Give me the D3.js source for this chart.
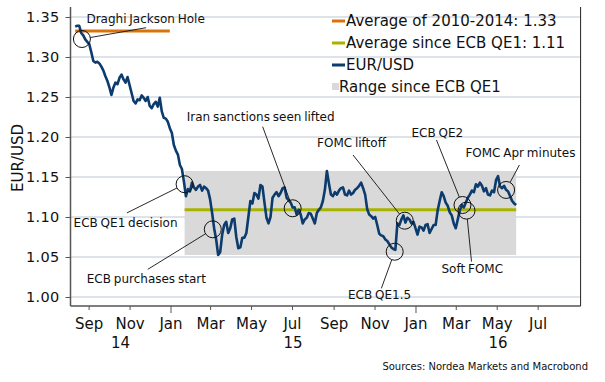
<!DOCTYPE html>
<html>
<head>
<meta charset="utf-8">
<script src="https://cdn.jsdelivr.net/npm/d3@7"></script>
<style>
  html, body { margin: 0; padding: 0; background: #fff; }
  svg { display: block; font-family: "DejaVu Sans", Verdana, sans-serif; }
</style>
</head>
<body>
<svg id="chart" width="605" height="382"></svg>
<script>
// ---------------- DATA ----------------
// EUR/USD sampled every 3 days starting 2014-08-12
const seriesStart = "2014-08-12";
const seriesStepDays = 3;
const eurusd = [
  1.338, 1.339, 1.339, 1.330, 1.327, 1.322, 1.319, 1.316, 1.306, 1.295,
  1.293, 1.294, 1.292, 1.288, 1.283, 1.276, 1.270, 1.262, 1.2525, 1.262,
  1.268, 1.266, 1.274, 1.278, 1.272, 1.268, 1.275, 1.265, 1.255, 1.245,
  1.242, 1.247, 1.246, 1.252, 1.249, 1.245, 1.250, 1.239, 1.236, 1.241,
  1.244, 1.238, 1.249, 1.232, 1.224, 1.223, 1.219, 1.211, 1.205, 1.190,
  1.183, 1.178, 1.165, 1.160, 1.144, 1.126, 1.135, 1.132, 1.143, 1.137,
  1.134, 1.138, 1.140, 1.133, 1.138, 1.136, 1.133, 1.122, 1.105, 1.086,
  1.072, 1.0525, 1.056, 1.078, 1.090, 1.094, 1.080, 1.086, 1.097, 1.098,
  1.075, 1.061, 1.062, 1.074, 1.074, 1.080, 1.100, 1.120, 1.117, 1.130,
  1.128, 1.123, 1.140, 1.138, 1.118, 1.099, 1.092, 1.100, 1.124, 1.128,
  1.131, 1.126, 1.130, 1.136, 1.137, 1.124, 1.121, 1.118, 1.112, 1.112,
  1.103, 1.109, 1.103, 1.092, 1.097, 1.099, 1.105, 1.104, 1.098, 1.092,
  1.105, 1.109, 1.112, 1.120, 1.134, 1.1575, 1.142, 1.128, 1.126, 1.131,
  1.128, 1.133, 1.136, 1.137, 1.128, 1.127, 1.133, 1.128, 1.130, 1.134,
  1.136, 1.139, 1.143, 1.136, 1.128, 1.110, 1.103, 1.101, 1.098, 1.100,
  1.090, 1.079, 1.077, 1.076, 1.072, 1.070, 1.066, 1.062, 1.060, 1.059,
  1.092, 1.090, 1.097, 1.102, 1.093, 1.099, 1.097, 1.092, 1.094, 1.086,
  1.078, 1.088, 1.087, 1.083, 1.090, 1.091, 1.080, 1.085, 1.090, 1.090,
  1.108, 1.120, 1.131, 1.126, 1.118, 1.114, 1.106, 1.102, 1.092, 1.086,
  1.097, 1.108, 1.115, 1.112, 1.118, 1.124, 1.128, 1.133, 1.131, 1.141,
  1.138, 1.143, 1.139, 1.132, 1.136, 1.128, 1.127, 1.133, 1.131, 1.146,
  1.151, 1.138, 1.136, 1.139, 1.134, 1.132, 1.126, 1.120, 1.117, 1.115
];

const avg2010_2014 = 1.3325;
const avg2010_2014Span = ["2014-08-12", "2014-12-31"];
const avgSinceQE1 = 1.109;
const qe1Date = "2015-01-22";

const legendLabels = [
  "Average of 2010-2014: 1.33",
  "Average since ECB QE1: 1.11",
  "EUR/USD",
  "Range since ECB QE1"
];

const yTicks = [1.00, 1.05, 1.10, 1.15, 1.20, 1.25, 1.30, 1.35];
const xTickRange = ["2014-09-01", "2016-07-01"];
const yLabel = "EUR/USD";
const sourceText = "Sources: Nordea Markets and Macrobond";

// annotations: label, date, value
const annLabels = ["Draghi Jackson Hole", "ECB QE1 decision", "ECB purchases start",
  "Iran sanctions seen lifted", "FOMC liftoff", "ECB QE1.5", "ECB QE2", "Soft FOMC", "FOMC Apr minutes"];
const annDates = ["2014-08-22", "2015-01-22", "2015-03-05", "2015-07-02", "2015-12-16",
  "2015-12-01", "2016-03-11", "2016-03-17", "2016-05-15"];
const annValues = [1.3225, 1.141, 1.0846, 1.1109, 1.0954, 1.0566, 1.115, 1.108, 1.1338];

// ---------------- LAYOUT ----------------
const L = 70.5, R = 580.6, T = 7, B = 306;
// leader line end (offset from circle centre) and text start/baseline offsets
const annLayout = [
  { lx: 64.2, ly: -11.3, tx: 4.5, ty: -16 },
  { lx: -57.7, ly: 28.7, tx: -111, ty: 42.5 },
  { lx: -65, ly: 40, tx: -126, ty: 53.7 },
  { lx: -30, ly: -81.6, tx: -106, ty: -86.8 },
  { lx: -51.7, ly: -65.7, tx: -87.7, ty: -73.2 },
  { lx: -13.3, ly: 36.6, tx: -46.7, ty: 47.3 },
  { lx: -26, ly: -65, tx: -51, ty: -68.5 },
  { lx: 5, ly: 51, tx: -25, ty: 62.8 },
  { lx: 13.3, ly: -25, tx: -40.7, ty: -33 }
];

const parse = d3.utcParse("%Y-%m-%d");
const start = parse(seriesStart);
const dates = eurusd.map((_, i) => d3.utcDay.offset(start, i * seriesStepDays));
const data = dates.map((d, i) => ({ date: d, value: eurusd[i] }));

const svg = d3.select("#chart");
const x = d3.scaleUtc().domain([parse("2014-08-05"), parse("2016-09-03")]).range([L, R]);
const y = d3.scaleLinear().domain([0.98875, 1.3625]).range([B, T]);

// gridlines
svg.append("g").selectAll("line").data(yTicks).join("line")
  .attr("x1", L).attr("x2", R)
  .attr("y1", d => y(d)).attr("y2", d => y(d))
  .attr("stroke", "#dde3e9").attr("stroke-width", 2);

// range box since QE1
const qe1 = parse(qe1Date);
const since = data.filter(d => d.date >= qe1);
const ext = d3.extent(since, d => d.value);
const lastDate = data[data.length - 1].date;
svg.append("rect")
  .attr("x", x(qe1)).attr("width", x(lastDate) - x(qe1))
  .attr("y", y(ext[1])).attr("height", y(ext[0]) - y(ext[1]))
  .attr("fill", "#d9d9d9");

// average lines
svg.append("line")
  .attr("x1", x(parse(avg2010_2014Span[0]))).attr("x2", x(parse(avg2010_2014Span[1])))
  .attr("y1", y(avg2010_2014)).attr("y2", y(avg2010_2014))
  .attr("stroke", "#d9730d").attr("stroke-width", 3);
svg.append("line")
  .attr("x1", x(qe1)).attr("x2", x(lastDate))
  .attr("y1", y(avgSinceQE1)).attr("y2", y(avgSinceQE1))
  .attr("stroke", "#a8b300").attr("stroke-width", 3);

// series line
svg.append("path").datum(data)
  .attr("fill", "none").attr("stroke", "#0c3b6d").attr("stroke-width", 2.6)
  .attr("stroke-linejoin", "round")
  .attr("d", d3.line().x(d => x(d.date)).y(d => y(d.value)));

// axes
const yAxis = svg.append("g").attr("transform", `translate(${L},0)`)
  .call(d3.axisLeft(y).tickValues(yTicks).tickFormat(d3.format(".2f")).tickSize(5).tickPadding(6));
yAxis.select(".domain").remove();
yAxis.selectAll(".tick line").attr("stroke", "#555");
yAxis.selectAll("text").attr("font-size", 14.5).attr("fill", "#111")
  .attr("font-family", "DejaVu Sans").attr("letter-spacing", 0.3);

const xTicks = d3.utcMonth.every(2).range(parse(xTickRange[0]), d3.utcDay.offset(parse(xTickRange[1]), 1));
const xAxis = svg.append("g").attr("transform", `translate(0,${B})`)
  .call(d3.axisBottom(x).tickValues(xTicks).tickFormat(d3.utcFormat("%b")).tickSize(4).tickPadding(8));
xAxis.select(".domain").remove();
xAxis.selectAll(".tick line").attr("stroke", "#555")
  .attr("y2", d => d.getUTCMonth() === 0 ? 7 : 4);
xAxis.selectAll("text").attr("font-size", 15).attr("fill", "#111").attr("font-family", "DejaVu Sans");

// year labels centred on visible portion of each year
const years = d3.utcYear.range(d3.utcYear.floor(x.domain()[0]), x.domain()[1]);
svg.append("g").selectAll("text").data(years).join("text")
  .attr("x", d => {
    const a = Math.max(x(d), L), b = Math.min(x(d3.utcYear.offset(d, 1)), R);
    return (a + b) / 2;
  })
  .attr("y", 347.5).attr("text-anchor", "middle")
  .attr("font-size", 15).attr("fill", "#111")
  .text(d => d3.utcFormat("%y")(d));

// frame lines
svg.append("line").attr("x1", L).attr("x2", L).attr("y1", T).attr("y2", B).attr("stroke", "#555").attr("stroke-width", 1.5);
svg.append("line").attr("x1", L).attr("x2", R).attr("y1", B).attr("y2", B).attr("stroke", "#555").attr("stroke-width", 1.5);
svg.append("line").attr("x1", R).attr("x2", R).attr("y1", T).attr("y2", B).attr("stroke", "#222").attr("stroke-width", 1);

// y label
svg.append("text").attr("transform", "translate(23,158) rotate(-90)")
  .attr("text-anchor", "middle").attr("font-size", 15).attr("fill", "#111").text(yLabel);

// annotations
const r = 8.5;
const ann = svg.append("g");
annLabels.forEach((lab, i) => {
  const cx = x(parse(annDates[i])), cy = y(annValues[i]);
  const lay = annLayout[i];
  const len = Math.hypot(lay.lx, lay.ly);
  ann.append("circle").attr("cx", cx).attr("cy", cy).attr("r", r)
    .attr("fill", "none").attr("stroke", "#111").attr("stroke-width", 1);
  ann.append("line")
    .attr("x1", cx + lay.lx / len * r).attr("y1", cy + lay.ly / len * r)
    .attr("x2", cx + lay.lx).attr("y2", cy + lay.ly)
    .attr("stroke", "#111").attr("stroke-width", 0.9);
  ann.append("text").attr("x", cx + lay.tx).attr("y", cy + lay.ty)
    .attr("font-size", 12).attr("fill", "#111").attr("word-spacing", -1).text(lab);
});

// legend
const legX = 332, legY0 = 26, legDy = 22;
const legColors = ["#d9730d", "#a8b300", "#0c3b6d", "#d9d9d9"];
const leg = svg.append("g");
legendLabels.forEach((lab, i) => {
  const yy = legY0 + i * legDy;
  if (i < 3) {
    leg.append("line").attr("x1", legX).attr("x2", legX + 13)
      .attr("y1", yy - 5).attr("y2", yy - 5)
      .attr("stroke", legColors[i]).attr("stroke-width", 3);
  } else {
    leg.append("rect").attr("x", legX).attr("y", yy - 9).attr("width", 7).attr("height", 7)
      .attr("fill", legColors[i]);
  }
  leg.append("text").attr("x", i < 3 ? legX + 14 : legX + 7).attr("y", yy)
    .attr("font-size", 15).attr("fill", "#111").text(lab);
});

// source
svg.append("text").attr("x", 588).attr("y", 370).attr("text-anchor", "end")
  .attr("font-size", 10).attr("fill", "#111").text(sourceText);
</script>
</body>
</html>
